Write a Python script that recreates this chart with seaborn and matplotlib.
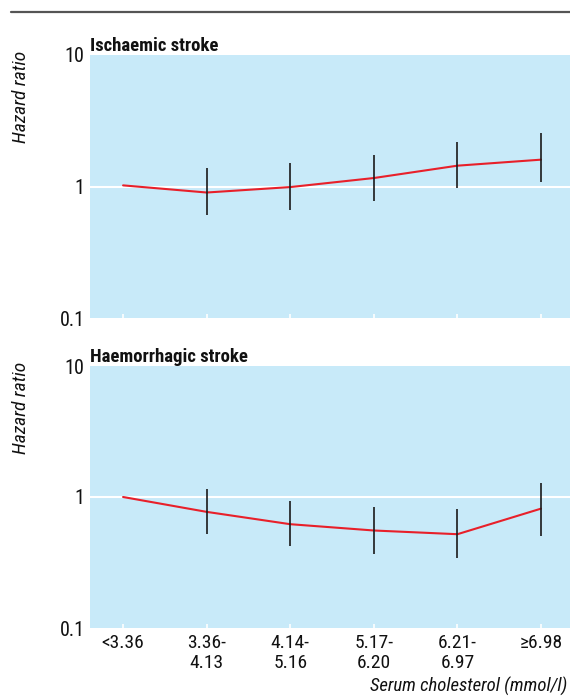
import matplotlib
matplotlib.use("Agg")
import matplotlib.pyplot as plt
import matplotlib.font_manager as fm
import seaborn as sns
import pandas as pd
import numpy as np

categories = ["<3.36", "3.36-\n4.13", "4.14-\n5.16", "5.17-\n6.20", "6.21-\n6.97", "\u22656.98"]

isch_hr = [1.02, 0.90, 0.99, 1.16, 1.44, 1.60]
isch_lo = [np.nan, 0.605, 0.665, 0.77, 0.97, 1.08]
isch_hi = [np.nan, 1.39, 1.50, 1.74, 2.17, 2.57]

haem_hr = [1.00, 0.77, 0.62, 0.555, 0.52, 0.815]
haem_lo = [np.nan, 0.52, 0.42, 0.37, 0.345, 0.50]
haem_hi = [np.nan, 1.16, 0.94, 0.84, 0.81, 1.27]

titles = ["Ischaemic stroke", "Haemorrhagic stroke"]
y_ticks = [0.1, 1, 10]
y_tick_labels = ["0.1", "1", "10"]

sns.set_theme(style="white")
avail = {f.name for f in fm.fontManager.ttflist}
font = "Liberation Sans"
for cand in ["Liberation Sans Narrow", "Roboto Condensed", "Open Sans Condensed", "Liberation Sans"]:
    if cand in avail:
        font = cand
        break
plt.rcParams["font.family"] = [font, "DejaVu Sans"]

bg = "#C8EAF9"
txt = "#111111"
fig = plt.figure(figsize=(5.70, 6.96), dpi=100)

# top rule
fig.add_artist(plt.Line2D([11/570, 1.0], [1 - 12/696, 1 - 12/696],
                          color="#555555", linewidth=1.6, transform=fig.transFigure))

positions = [(0.158, 1 - 318/696, 1 - 0.158, (318 - 55)/696),
             (0.158, 1 - 628/696, 1 - 0.158, (628 - 366)/696)]
panels = [(isch_hr, isch_lo, isch_hi), (haem_hr, haem_lo, haem_hi)]

for i, (pos, (hr, lo, hi), title) in enumerate(zip(positions, panels, titles)):
    ax = fig.add_axes(pos)
    ax.set_facecolor(bg)
    for s in ax.spines.values():
        s.set_visible(False)
    ax.set_yscale("log")
    ax.set_ylim(0.1, 10)
    ax.set_xlim(-0.395, 5.347)
    ax.axhline(1, color="white", linewidth=1.5, zorder=1)
    df = pd.DataFrame({"x": np.arange(len(categories)), "hr": hr})
    sns.lineplot(data=df, x="x", y="hr", ax=ax, color="#E8202A", linewidth=1.5, zorder=3)
    xs = np.arange(len(categories))
    ax.vlines(xs, lo, hi, color="#1a1a1a", linewidth=1.2, zorder=4)
    ax.set_yticks(y_ticks)
    ax.set_yticklabels(y_tick_labels, fontsize=14.5)
    ax.yaxis.set_minor_locator(matplotlib.ticker.NullLocator())
    ax.tick_params(axis="y", length=0, pad=4, colors=txt)
    ax.set_xticks(xs)
    ax.tick_params(axis="x", direction="in", length=3, width=1.2, color="white",
                   bottom=True, pad=4)
    if i == 1:
        ax.set_xticklabels(categories, fontsize=14, linespacing=1.15, color=txt)
        ax.set_xlabel("Serum cholesterol (mmol/l)", fontsize=13.5, style="italic",
                      color=txt)
        ax.xaxis.set_label_coords(0.995, -0.185)
        ax.xaxis.label.set_horizontalalignment("right")
    else:
        ax.set_xticklabels([])
        ax.set_xlabel("")
    ax.set_ylabel("Hazard ratio", fontsize=14, style="italic", color=txt)
    ax.yaxis.set_label_coords(-0.125, 0.84)
    ax.set_title(title, loc="left", fontsize=13.5, fontweight="bold", pad=3,
                 color=txt)

fig.savefig("out.png", dpi=100)
